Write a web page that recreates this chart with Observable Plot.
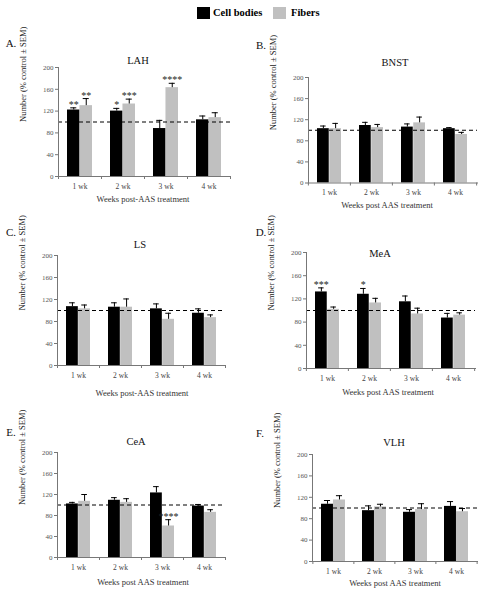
<!DOCTYPE html>
<html>
<head>
<meta charset="utf-8">
<script src="https://cdn.jsdelivr.net/npm/d3@7"></script>
<script src="https://cdn.jsdelivr.net/npm/@observablehq/plot@0.6"></script>
<style>
  body { margin: 0; background: #fff; }
  #chart { position: relative; width: 493px; height: 600px; overflow: hidden; background: #fff; font-family: "Liberation Serif", "DejaVu Serif", serif; }
  .lbl { position: absolute; transform: translate(-50%, -50%); white-space: nowrap; line-height: 1; color: #222; }
  .panel { position: absolute; }
</style>
</head>
<body>
<div id="chart"></div>
<script>
// ---------- data ----------
const weeks = ["1 wk", "2 wk", "3 wk", "4 wk"];
const regions = ["LAH", "BNST", "LS", "MeA", "CeA", "VLH"];
const panelLetters = ["A.", "B.", "C.", "D.", "E.", "F."];
const xLabels = ["Weeks post-AAS treatment", "Weeks post AAS treatment", "Weeks post-AAS treatment",
                 "Weeks post AAS treatment", "Weeks post AAS treatment", "Weeks post AAS treatment"];
const yLabel = "Number (% control ± SEM)";
const yTicks = [0, 40, 80, 120, 160, 200];
const seriesNames = ["Cell bodies", "Fibers"];
const referenceLevel = 100;

// one row per region, one value per week
const cellMean = [
  [122, 120, 88, 104],
  [103, 109, 106, 103],
  [107, 106, 103, 95],
  [132, 128, 115, 87],
  [102, 109, 123, 98],
  [107, 95, 92, 103]
];
const cellSem = [
  [4, 5, 15, 7],
  [5, 6, 6, 2],
  [7, 8, 9, 8],
  [7, 10, 10, 8],
  [3, 5, 12, 3],
  [7, 9, 5, 9]
];
const fiberMean = [
  [130, 133, 163, 108],
  [103, 105, 114, 92],
  [103, 106, 84, 87],
  [102, 113, 94, 92],
  [107, 105, 60, 86],
  [115, 102, 97, 93]
];
const fiberSem = [
  [13, 9, 8, 9],
  [10, 6, 11, 4],
  [7, 15, 11, 5],
  [4, 8, 10, 4],
  [13, 7, 12, 5],
  [8, 5, 11, 6]
];
const cellSig = [
  ["**", "*", "", ""],
  ["", "", "", ""],
  ["", "", "", ""],
  ["***", "*", "", ""],
  ["", "", "", ""],
  ["", "", "", ""]
];
const fiberSig = [
  ["**", "***", "****", ""],
  ["", "", "", ""],
  ["", "", "", ""],
  ["", "", "", ""],
  ["", "", "****", ""],
  ["", "", "", ""]
];

// ---------- layout (pixels on the page) ----------
const layout = [
  {axisX: 58,  yTop: 67,   yBottom: 176, xEnd: 230, title: [138, 61],  letter: [11, 43],  xlab: [143, 199]},
  {axisX: 308, yTop: 76.5, yBottom: 182, xEnd: 477, title: [395, 63],  letter: [261, 45], xlab: [387, 205]},
  {axisX: 57,  yTop: 255,  yBottom: 365, xEnd: 225, title: [140, 245], letter: [11, 232], xlab: [142, 393]},
  {axisX: 306, yTop: 252,  yBottom: 368, xEnd: 475, title: [380, 254], letter: [261, 232], xlab: [388, 392]},
  {axisX: 57,  yTop: 452,  yBottom: 557, xEnd: 225, title: [136, 442], letter: [11, 432], xlab: [143, 582]},
  {axisX: 312, yTop: 454,  yBottom: 561, xEnd: 477, title: [394, 443], letter: [260, 433], xlab: [395, 583]}
];
const black = "#000000";
const gray = "#c0c0c0";

const chart = document.getElementById("chart");

function addLabel(text, [cx, cy], style) {
  const d = document.createElement("div");
  d.className = "lbl";
  d.textContent = text;
  d.style.left = cx + "px";
  d.style.top = cy + "px";
  Object.assign(d.style, style);
  chart.appendChild(d);
}

// legend
(function legend() {
  const items = [
    {name: seriesNames[0], color: black, sq: 197, tx: 213},
    {name: seriesNames[1], color: gray, sq: 273, tx: 291}
  ];
  for (const it of items) {
    const s = document.createElement("div");
    Object.assign(s.style, {position: "absolute", left: it.sq + "px", top: "7px", width: "13px", height: "12px", background: it.color});
    chart.appendChild(s);
    const t = document.createElement("div");
    Object.assign(t.style, {position: "absolute", left: it.tx + "px", top: "7px", fontSize: "10.5px", fontWeight: "bold", lineHeight: "12px", color: "#000", whiteSpace: "nowrap"});
    t.textContent = it.name;
    chart.appendChild(t);
  }
})();

const ML = 46, MR = 8, MT = 4, MB = 24;
const padInner = 0.42;

regions.forEach((region, i) => {
  const L = layout[i];
  const frameW = L.xEnd - L.axisX;
  const frameH = L.yBottom - L.yTop;
  const step = frameW / weeks.length;
  const bandW = step * (1 - padInner);
  const barW = bandW / 2;
  const capHalf = 3;

  const rows = weeks.map((w, j) => ({
    week: w,
    cell: cellMean[i][j], cellTop: cellMean[i][j] + cellSem[i][j], cellSig: cellSig[i][j],
    fiber: fiberMean[i][j], fiberTop: fiberMean[i][j] + fiberSem[i][j], fiberSig: fiberSig[i][j]
  }));

  const svg = Plot.plot({
    width: frameW + ML + MR,
    height: frameH + MT + MB,
    marginLeft: ML, marginRight: MR, marginTop: MT, marginBottom: MB,
    style: {fontFamily: "Liberation Serif", fontSize: "7px", color: "#444", background: "transparent", overflow: "visible"},
    x: {domain: weeks, paddingInner: padInner, paddingOuter: padInner / 2, label: null},
    y: {domain: [0, 200], label: null},
    marks: [
      Plot.barY(rows, {x: "week", y: "cell", fill: black, insetRight: barW}),
      Plot.barY(rows, {x: "week", y: "fiber", fill: gray, insetLeft: barW}),
      // error bars
      Plot.ruleX(rows, {x: "week", y1: "cell", y2: "cellTop", dx: -barW / 2, stroke: black, strokeWidth: 1}),
      Plot.ruleX(rows, {x: "week", y1: "fiber", y2: "fiberTop", dx: barW / 2, stroke: black, strokeWidth: 1}),
      Plot.tickY(rows, {x: "week", y: "cellTop", insetLeft: barW / 2 - capHalf, insetRight: bandW - barW / 2 - capHalf, stroke: black, strokeWidth: 1}),
      Plot.tickY(rows, {x: "week", y: "fiberTop", insetLeft: bandW - barW / 2 - capHalf, insetRight: barW / 2 - capHalf, stroke: black, strokeWidth: 1}),
      // reference line
      Plot.ruleY([referenceLevel], {stroke: black, strokeWidth: 1, strokeDasharray: "4,3"}),
      // significance stars
      Plot.text(rows, {x: "week", y: "cellTop", text: "cellSig", dx: -barW / 2, lineAnchor: "bottom", fontSize: 10, fill: "#222"}),
      Plot.text(rows, {x: "week", y: "fiberTop", text: "fiberSig", dx: barW / 2, lineAnchor: "bottom", fontSize: 10, fill: "#222"}),
      // axes
      Plot.axisY({ticks: yTicks, tickSize: 3, tickPadding: 2, fontSize: 7, fill: "#555", stroke: "#777", label: null}),
      Plot.axisX({tickSize: 0, tickPadding: 7, fontSize: 7.5, fill: "#444", label: null}),
      Plot.ruleX(weeks, {x: d => d, dx: -step / 2, insetTop: frameH, insetBottom: -3, stroke: "#777"}),
      Plot.ruleX(weeks.slice(-1), {x: d => d, dx: step / 2, insetTop: frameH, insetBottom: -3, stroke: "#777"}),
      Plot.frame({anchor: "left", stroke: "#777"}),
      Plot.frame({anchor: "bottom", stroke: "#777"}),
      // y label
      Plot.text([yLabel], {frameAnchor: "left", dx: -35, rotate: -90, fontSize: 8.5, fill: "#222"})
    ]
  });
  const wrap = document.createElement("div");
  wrap.className = "panel";
  wrap.style.left = (L.axisX - ML) + "px";
  wrap.style.top = (L.yTop - MT) + "px";
  wrap.appendChild(svg);
  chart.appendChild(wrap);

  addLabel(region, L.title, {fontSize: "10.5px", color: "#111"});
  addLabel(panelLetters[i], L.letter, {fontSize: "11px", color: "#111"});
  addLabel(xLabels[i], L.xlab, {fontSize: "8.5px", color: "#333"});
});
</script>
</body>
</html>
